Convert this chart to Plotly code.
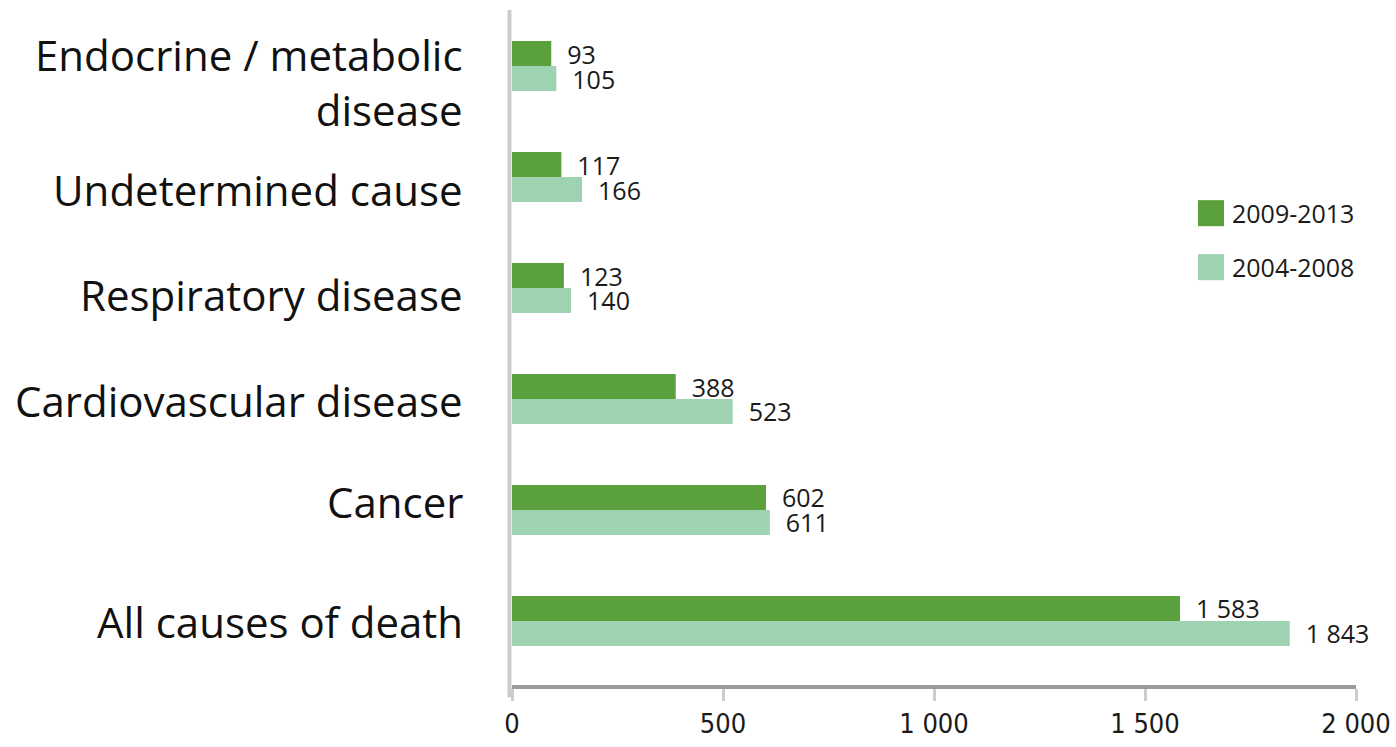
import plotly.graph_objects as go

# Causes of death, listed top to bottom as displayed
categories = [
    "Endocrine / metabolic<br>disease",
    "Undetermined cause",
    "Respiratory disease",
    "Cardiovascular disease",
    "Cancer",
    "All causes of death",
]
series_names = ["2009-2013", "2004-2008"]
deaths_2009_2013 = [93, 117, 123, 388, 602, 1583]
deaths_2004_2008 = [105, 166, 140, 523, 611, 1843]
x_ticks = [0, 500, 1000, 1500, 2000]

colors = {"2009-2013": "#5aa03d", "2004-2008": "#9dd3b0"}
# vertical nudge (px, negative = down) of each category label
label_nudge = {
    "Endocrine / metabolic<br>disease": -16,
    "Undetermined cause": -12,
    "Respiratory disease": -6,
    "Cardiovascular disease": -1,
    "Cancer": 8,
    "All causes of death": -1,
}


def fmt(v):
    return f"{v:,}".replace(",", " ")


fig = go.Figure()
for name, vals in zip(series_names, [deaths_2009_2013, deaths_2004_2008]):
    fig.add_trace(go.Bar(
        y=categories,
        x=vals,
        orientation="h",
        name=name,
        marker=dict(color=colors[name], line=dict(width=0)),
        text=["\u00a0\u00a0" + fmt(v) for v in vals],
        textposition="outside",
        constraintext="none",
        cliponaxis=False,
        textfont=dict(family="Open Sans", size=25, color="#1a1a1a"),
        showlegend=False,
    ))

# Category labels, right-aligned left of the axis
for cat in categories:
    fig.add_annotation(
        text=cat, xref="paper", yref="y", x=0, y=cat,
        xanchor="right", yanchor="middle", align="right",
        xshift=-47, yshift=label_nudge[cat],
        showarrow=False,
        font=dict(family="Open Sans", size=42, color="#111111"),
    )

# Legend: coloured squares with labels
legend_y = [0.699, 0.619]
for name, ly in zip(series_names, legend_y):
    fig.add_shape(
        type="rect", xref="paper", yref="paper",
        x0=0.8128, x1=0.8436, y0=ly - 0.0193, y1=ly + 0.0193,
        fillcolor=colors[name], line=dict(width=0),
    )
    fig.add_annotation(
        text=name, xref="paper", yref="paper", x=0.851, y=ly,
        xanchor="left", yanchor="middle", showarrow=False,
        font=dict(family="Open Sans", size=25, color="#1a1a1a"),
    )

# Vertical axis line continues a little below the horizontal axis
fig.add_shape(
    type="line", xref="paper", yref="paper",
    x0=-0.003, x1=-0.003, y0=-0.018, y1=1,
    line=dict(color="#cccccc", width=4),
)

fig.update_layout(
    width=1396, height=747,
    margin=dict(l=512, r=40, t=10, b=62),
    paper_bgcolor="white", plot_bgcolor="white",
    barmode="group", bargap=0.55, bargroupgap=0,
    separators=". ",
    xaxis=dict(
        range=[0, 2000], tickvals=x_ticks, tickformat=",d",
        showgrid=False, zeroline=False, automargin=False,
        showline=True, linecolor="#9b9b9b", linewidth=4,
        ticks="outside", ticklen=12, tickwidth=3, tickcolor="#cccccc",
        tickfont=dict(family="DejaVu Sans Condensed, Liberation Sans Narrow, Roboto Condensed, Open Sans",
                      size=27, color="#1a1a1a"),
        ticklabelstandoff=0,
    ),
    yaxis=dict(
        categoryorder="array", categoryarray=categories,
        range=[5.577, -0.505], automargin=False,
        showgrid=False, zeroline=False,
        showline=False, ticks="", showticklabels=False,
    ),
)

fig.write_html("out.html")
